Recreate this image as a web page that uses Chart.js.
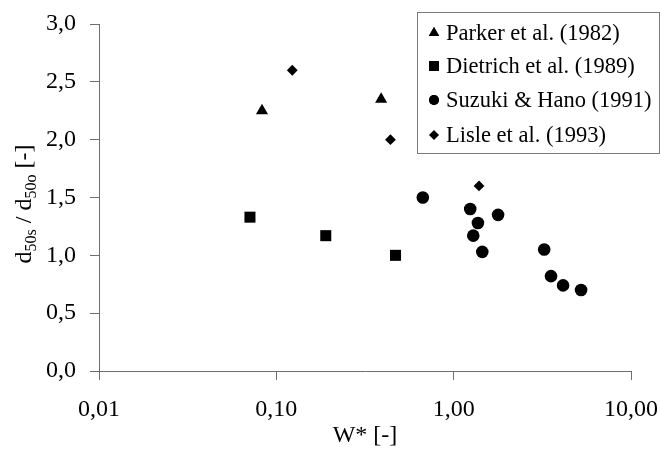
<!DOCTYPE html>
<html>
<head>
<meta charset="utf-8">
<script src="https://cdn.jsdelivr.net/npm/chart.js@4/dist/chart.umd.min.js"></script>
<style>
  html, body { margin: 0; padding: 0; background: #fff; }
  #wrap { width: 660px; height: 450px; }
</style>
</head>
<body>
<div id="wrap"><canvas id="c" width="660" height="450"></canvas></div>
<script>
// Measured series: W* (dimensionless transport rate) vs d50s/d50o
const parkerW = [0.083, 0.39];
const parkerD = [2.25, 2.35];

const dietrichW = [0.071, 0.19, 0.47];
const dietrichD = [1.33, 1.17, 1.00];

const suzukiW = [0.67, 1.24, 1.29, 1.37, 1.45, 1.78, 3.24, 3.54, 4.14, 5.23];
const suzukiD = [1.50, 1.40, 1.17, 1.28, 1.03, 1.35, 1.05, 0.82, 0.74, 0.70];

const lisleW = [0.123, 0.44, 1.39];
const lisleD = [2.60, 2.00, 1.60];

const seriesNames = ['Parker et al. (1982)', 'Dietrich et al. (1989)', 'Suzuki & Hano (1991)', 'Lisle et al. (1993)'];

const xTickValues = [0.01, 0.1, 1, 10];
const yTickValues = [0, 0.5, 1, 1.5, 2, 2.5, 3];

const FONT = '"Liberation Serif", "Times New Roman", serif';
const AXIS = '#6e6e6e';

const pts = (xs, ys) => xs.map((x, i) => ({ x: x, y: ys[i] }));
const commaFix = (v, d) => Number(v).toFixed(d).replace('.', ',');

// Boxed legend in the upper right of the plot
const boxLegend = {
  id: 'boxLegend',
  afterDraw(chart) {
    const ctx = chart.ctx;
    const bx = 417, by = 12, bw = 242, bh = 141;
    ctx.save();
    ctx.strokeStyle = '#7a7a7a';
    ctx.lineWidth = 1;
    ctx.strokeRect(bx + 0.5, by + 0.5, bw, bh);
    ctx.font = '22.5px ' + FONT;
    ctx.fillStyle = '#000';
    ctx.textBaseline = 'middle';
    ctx.textAlign = 'left';
    const rows = [33, 66, 100, 135];
    chart.data.datasets.forEach((ds, i) => {
      const y = rows[i];
      Chart.helpers.drawPoint(ctx, {
        pointStyle: ds.pointStyle,
        radius: ds.legendRadius,
        rotation: 0,
        borderWidth: 0
      }, 434, y);
      ctx.fillStyle = '#000';
      ctx.fill();
      ctx.fillText(ds.label, 446, y + 1);
    });
    ctx.restore();
  }
};

// Vertical axis title with subscripted parts
const yTitle = {
  id: 'yTitle',
  afterDraw(chart) {
    const ctx = chart.ctx;
    const parts = [
      ['d', false], ['50s', true], [' / d', false], ['50o', true], [' [-]', false]
    ];
    const mainFont = '24px ' + FONT;
    const subFont = '16px ' + FONT;
    ctx.save();
    let total = 0;
    parts.forEach(p => { ctx.font = p[1] ? subFont : mainFont; total += ctx.measureText(p[0]).width; });
    ctx.translate(31, 204);
    ctx.rotate(-Math.PI / 2);
    ctx.fillStyle = '#000';
    ctx.textBaseline = 'alphabetic';
    ctx.textAlign = 'left';
    let x = -total / 2;
    parts.forEach(p => {
      ctx.font = p[1] ? subFont : mainFont;
      ctx.fillText(p[0], x, p[1] ? 5 : 0);
      x += ctx.measureText(p[0]).width;
    });
    ctx.restore();
  }
};

new Chart(document.getElementById('c'), {
  type: 'scatter',
  data: {
    datasets: [
      { label: seriesNames[0], data: pts(parkerW, parkerD), pointStyle: 'triangle', pointRadius: 7, legendRadius: 6 },
      { label: seriesNames[1], data: pts(dietrichW, dietrichD), pointStyle: 'rect', pointRadius: 7.8, legendRadius: 7 },
      { label: seriesNames[2], data: pts(suzukiW, suzukiD), pointStyle: 'circle', pointRadius: 6.3, legendRadius: 5 },
      { label: seriesNames[3], data: pts(lisleW, lisleD), pointStyle: 'rectRot', pointRadius: 5.4, legendRadius: 4.8 }
    ].map(ds => Object.assign(ds, {
      backgroundColor: '#000',
      borderColor: '#000',
      pointBorderWidth: 0,
      pointHoverRadius: ds.pointRadius
    }))
  },
  options: {
    responsive: false,
    animation: false,
    devicePixelRatio: 1,
    layout: { padding: { left: 0, top: 24, right: 29, bottom: 0 } },
    plugins: {
      legend: { display: false },
      tooltip: { enabled: false }
    },
    scales: {
      x: {
        type: 'logarithmic',
        min: 0.01,
        max: 10,
        afterBuildTicks(scale) { scale.ticks = xTickValues.map(v => ({ value: v })); },
        afterFit(scale) { scale.height = 79; scale.paddingLeft = 0; scale.paddingRight = 0; },
        border: { display: true, color: AXIS, width: 1 },
        grid: { drawOnChartArea: false, drawTicks: true, tickLength: 9, color: AXIS },
        ticks: {
          color: '#000',
          padding: 15,
          maxRotation: 0,
          autoSkip: false,
          font: { family: FONT, size: 24 },
          callback: v => commaFix(v, 2)
        },
        title: {
          display: true,
          text: 'W* [-]',
          color: '#000',
          font: { family: FONT, size: 24 },
          padding: { top: 0, bottom: 0 }
        }
      },
      y: {
        min: 0,
        max: 3,
        afterBuildTicks(scale) { scale.ticks = yTickValues.map(v => ({ value: v })); },
        afterFit(scale) { scale.width = 99; scale.paddingTop = 0; scale.paddingBottom = 0; },
        border: { display: true, color: AXIS, width: 1 },
        grid: { drawOnChartArea: false, drawTicks: true, tickLength: 9, color: AXIS },
        ticks: {
          color: '#000',
          padding: 14,
          font: { family: FONT, size: 24 },
          callback: v => commaFix(v, 1)
        }
      }
    }
  },
  plugins: [boxLegend, yTitle]
});
</script>
</body>
</html>
